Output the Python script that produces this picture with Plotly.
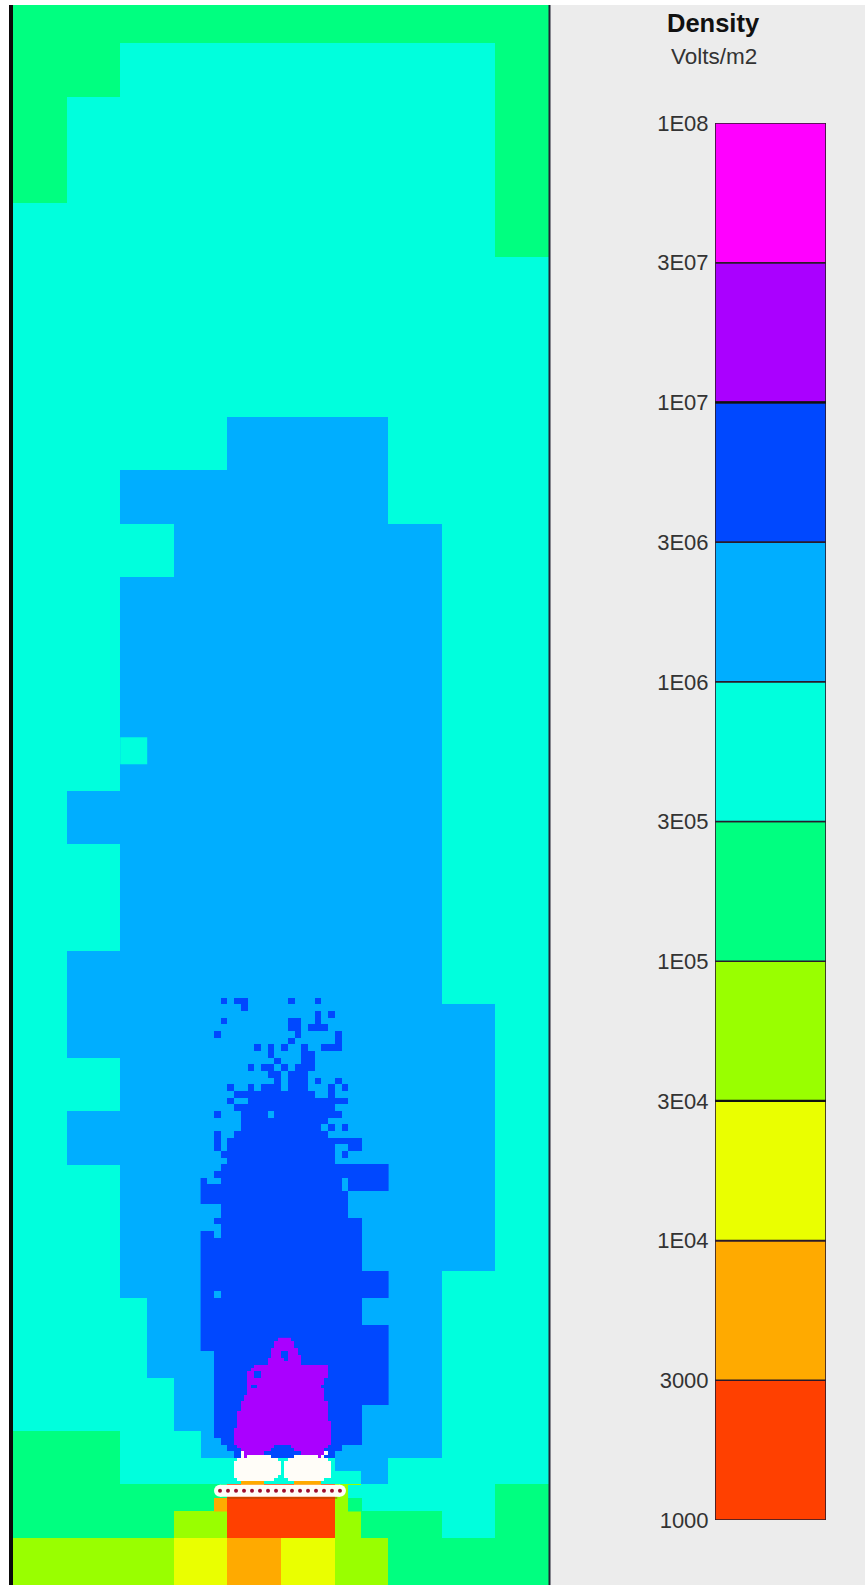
import plotly.graph_objects as go

# Band index: 0 = 1000-3000 ... 9 = 3E07-1E08, 10 = solid (white) device
BAND_LABELS = ["1000", "3000", "1E04", "3E04", "1E05", "3E05", "1E06", "3E06", "1E07", "3E07", "1E08"]
BAND_COLORS = ["#ff4000", "#ffaa00", "#eaff00", "#99ff00", "#00ff80", "#00ffdd",
               "#00aeff", "#0048ff", "#aa00ff", "#ff00ff"]
SOLID_COLOR = "#fffdf8"

# Coarse field, 10 columns, rows 0-24 (one character = one cell)
COARSE_ROWS = [
    "4444444444", "4455555554", "4555555554", "4555555554", "5555555554",
    "5555555555", "5555555555", "5555555555", "5555666555", "5566666555",
    "5556666655", "5566666655", "5566666655", "5566666655", "5566666655",
    "5666666655", "5566666655", "5566666655", "5666666655", "5666666665",
    "5566666665", "5666666665", "5566666665", "5566666665", "5566666655",
]
# Half-cell field, 20 columns, rows 24.0-29.5
HALF_ROWS = [
    "55556666666666665555", "55555666666666665555", "55555666666666665555", "55555666666666665555",
    "55555566666666665555", "55555566666666665555", "44445556666666665555", "44445555555556555555",
    "44444444000035555544", "44444433000034445544",
    "33333322112233444444", "33333322112233444444",
]
NOTCH_ROWS = ["5"]  # half cell at column 2.0-2.5, row 14.0-14.5

# Eighth-cell field, 28 columns from column 3.5, rows from 18.5
FINE_ROWS = [
    "", "", "",
    "...7.77......7...7",
    "......7",
    ".................7.7",
    "...7.........77..7",
    ".............77.777",
    "..7...........7.....7",
    ".............7......7",
    "........7.7.7..7..777",
    "..........7....77",
    "...........7...77",
    ".......7.77.7.777",
    "..........77.777",
    "...........7.777.7..7",
    "....7..7.777.777...7.7",
    ".....777777777777..7",
    "....7..777777777777777",
    ".....777777777777777",
    "..7...7777.7777777777",
    "......7777777777777",
    "......777777777777.7.7",
    "..7..77777777777777",
    "..7.77777777777777777777",
    "..7.7777777777777777..77",
    "...77777777777777777.7",
    "....7777777777777777",
    "...7777777777777777777777777",
    "..77777777777777777777777777",
    "7..777777777777777777.777777",
    "777777777777777777777.777777",
    "7777777777777777777777",
    "7777777777777777777777",
    "...7777777777777777777",
    "...7777777777777777777",
    "..7777777777777777777777",
    "...777777777777777777777",
    "77.777777777777777777777",
    "777777777777777777777777",
    "777777777777777777777777",
    "777777777777777777777777",
    "777777777777777777777777",
    "777777777777777777777777",
    "7777777777777777777777777777",
    "7777777777777777777777777777",
    "7777777777777777777777777777",
    "77.7777777777777777777777777",
    "777777777777777777777777",
    "777777777777777777777777",
    "777777777777777777777777",
    "777777777777777777777777",
    "7777777777777777777777777777",
    "7777777777777777777777777777",
    "7777777777777777777777777777",
    "7777777777777777777777777777",
    "..77777777777777777777777777",
    "..77777777777777777777777777",
    "..77777777777777777777777777",
    "..77777777777777777777777777",
    "..77777777777777777777777777",
    "..77777777777777777777777777",
    "..77777777777777777777777777",
    "..77777777777777777777777777",
    "..7777777777777777777777",
    "..7777777777777777777777",
    "..7777777777777777777777",
    "..7777777777777777777777",
    "..7777777777777777777777",
    "...777777777777777777777",
    "....77777777777777777",
    ".....777777777777777",
    "....................6666",
    "....................6666",
    "", "",
    "......................55",
    "......................55",
    "..11..................44",
    "..11..................44",
]

# Sixteenth-cell field, 32 columns from column 4.0, rows from 25.25 (W = solid device)
CORE_ROWS = [
    "...............8888",
    "..............888888",
    "..............888888",
    ".............88888888",
    ".............888..888",
    ".............888..8888",
    "............88888.8888",
    "............8888888888",
    "........8888888888888888888888",
    ".......88888888888888888888888",
    "......88..88888888888888888888",
    "......88..88888888888888888888",
    "......88888888888888888888888",
    "......88888888888888888888888",
    "......8..8888888888888888888",
    "......88888888888888888888888",
    "......88888888888888888888888",
    ".....888888888888888888888888",
    ".....888888888888888888888888",
    "....88888888888888888888888888",
    "....88888888888888888888888888",
    "....88888888888888888888888888",
    "...888888888888888888888888888",
    "...888888888888888888888888888",
    "...888888888888888888888888888",
    "...8888888888888888888888888888",
    "...8888888888888888888888888888",
    "..88888888888888888888888888888",
    "..88888888888888888888888888888",
    "..88888888888888888888888888888",
    "..88888888888888888888888888888",
    "..88888888888888888888888888888",
    "...88888888888.....88888888888",
    "....888888888.......888888888",
    "....W888888...........8888888W",
    "....W8WWWWWWW.......WWWWWWW8W",
    "...WWWWWWWWWWWW...WWWWWWWWWWWW",
    "..WWWWWWWWWWWWWW.WWWWWWWWWWWWWW",
    "..WWWWWWWWWWWWWW.WWWWWWWWWWWWWW",
    "..WWWWWWWWWWWWWW.WWWWWWWWWWWWWW",
    "..WWWWWWWWWWWWWW.WWWWWWWWWWWWWW",
    "..WWWWWWWWWWWWW..WWWWWWWWWWWWWW",
    "...WWWWWWWWWWW....WWWWWWWWWWW",
    "....1111111.........11111111",
]

# Electrode strip: row position and element columns
STRIP_ROW = [28.116, 28.116]
STRIP_COLS = [3.862, 6.100]
ELECTRODE_COLS = [3.862, 4.011, 4.161, 4.310, 4.459, 4.608, 4.758, 4.907,
                  5.056, 5.205, 5.355, 5.504, 5.653, 5.802, 5.951, 6.100]
ELECTRODE_ROWS = [28.116] * 16
BACK_LINE_COLS = [4.0, 6.05]
BACK_LINE_ROWS = [28.25, 28.25]


def decode(rows, width):
    out = []
    for row in rows:
        row = row.ljust(width, ".")
        out.append([None if c == "." else 10 if c == "W" else int(c) for c in row])
    return out


stops = []
n_levels = len(BAND_COLORS) + 1
for i, col in enumerate(BAND_COLORS + [SOLID_COLOR]):
    stops.append([i / n_levels, col])
    stops.append([(i + 1) / n_levels, col])


def field(rows, width, x0, y0, dx, dy):
    return go.Heatmap(z=decode(rows, width), x0=x0 + dx / 2, y0=y0 + dy / 2, dx=dx, dy=dy,
                      zmin=-0.5, zmax=10.5, colorscale=stops, showscale=False,
                      hoverongaps=False, xaxis="x", yaxis="y")


fig = go.Figure()
fig.add_trace(field(COARSE_ROWS, 10, 0, 0, 1, 1))
fig.add_trace(field(HALF_ROWS, 20, 0, 24, 0.5, 0.5))
fig.add_trace(field(NOTCH_ROWS, 1, 2.0, 14.0, 0.5, 0.5))
fig.add_trace(field(FINE_ROWS, 28, 3.5, 18.5, 0.125, 0.125))
fig.add_trace(field(CORE_ROWS, 32, 4.0, 25.25, 0.0625, 0.0625))

fig.add_trace(go.Scatter(x=BACK_LINE_COLS, y=BACK_LINE_ROWS, mode="lines",
                         line=dict(color="#a04a00", width=1), hoverinfo="skip"))
fig.add_trace(go.Scatter(x=STRIP_COLS, y=STRIP_ROW, mode="lines+markers",
                         line=dict(color=SOLID_COLOR, width=12),
                         marker=dict(color=SOLID_COLOR, size=12), hoverinfo="skip"))
fig.add_trace(go.Scatter(x=ELECTRODE_COLS, y=ELECTRODE_ROWS, mode="markers",
                         marker=dict(color="#a01030", size=4, symbol="circle"), hoverinfo="skip"))

# Legend column
for i, col in enumerate(BAND_COLORS):
    fig.add_trace(go.Bar(x=[0], y=[1], base=[i], width=[1], xaxis="x2", yaxis="y2",
                         marker=dict(color=col, line=dict(color="#2a1a2a", width=1.6)),
                         showlegend=False, hoverinfo="skip"))
fig.add_trace(go.Scatter(x=[-0.5, 0.5, None, -0.5, 0.5], y=[8, 8, None, 3, 3], mode="lines",
                         xaxis="x2", yaxis="y2", line=dict(color="#111", width=2.4), hoverinfo="skip"))

W, H = 865, 1585
TEXT = "Liberation Sans, Arial, sans-serif"
fig.update_layout(
    template="none",
    width=W, height=H, margin=dict(l=0, r=0, t=0, b=0, pad=0, autoexpand=False), paper_bgcolor="white",
    plot_bgcolor="rgba(0,0,0,0)", showlegend=False, barmode="overlay",
    xaxis=dict(domain=[13 / W, 549 / W], range=[0, 10], visible=False, fixedrange=True),
    yaxis=dict(domain=[0, 1 - 5 / H], range=[29.88, 0.283], visible=False, fixedrange=True),
    xaxis2=dict(domain=[715 / W, 826 / W], range=[-0.5, 0.5], anchor="y2", visible=False,
                type="linear", fixedrange=True),
    yaxis2=dict(domain=[1 - 1520 / H, 1 - 123 / H], range=[0, 10], anchor="x2", side="left",
                tickmode="array", tickvals=list(range(11)), ticktext=BAND_LABELS,
                ticks="outside", ticklen=1, tickcolor="rgba(0,0,0,0)", showgrid=False,
                zeroline=False, showline=False, fixedrange=True, automargin=False,
                tickfont=dict(family=TEXT, size=22, color="#333333")),
    shapes=[
        dict(type="rect", xref="paper", yref="paper", x0=549 / W, x1=1, y0=0, y1=1 - 5 / H,
             fillcolor="#ececec", line_width=0, layer="below"),
        dict(type="rect", xref="paper", yref="paper", x0=9 / W, x1=13 / W, y0=0, y1=1 - 5 / H,
             fillcolor="#0a0a0a", line_width=0, layer="above"),
        dict(type="rect", xref="paper", yref="paper", x0=548.5 / W, x1=550.5 / W, y0=0, y1=1 - 5 / H,
             fillcolor="#222233", line_width=0, layer="above"),
    ],
    annotations=[
        dict(text="<b>Density</b>", xref="paper", yref="paper", x=713 / W, y=1 - 23 / H,
             xanchor="center", yanchor="middle", showarrow=False,
             font=dict(family=TEXT, size=25.5, color="#111")),
        dict(text="Volts/m2", xref="paper", yref="paper", x=714 / W, y=1 - 56 / H,
             xanchor="center", yanchor="middle", showarrow=False,
             font=dict(family=TEXT, size=22.5, color="#333333")),
    ],
)
fig.for_each_trace(lambda t: t.update(showlegend=False))
fig.write_html("out.html", config={"displayModeBar": False},
               post_script="document.body.style.margin='0';document.documentElement.style.overflow='hidden';")
